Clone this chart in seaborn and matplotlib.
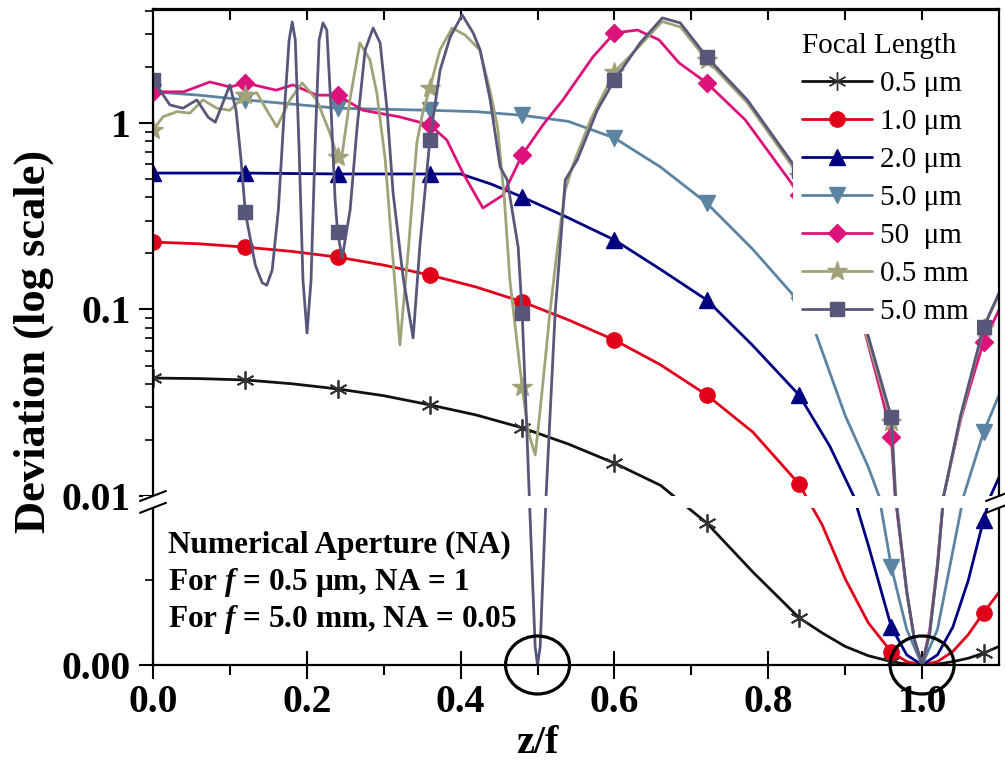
import numpy as np
import matplotlib
matplotlib.use("Agg")
import matplotlib.pyplot as plt
import seaborn as sns
from matplotlib.lines import Line2D
from matplotlib.patches import Ellipse, Rectangle
from matplotlib.transforms import ScaledTranslation

# ---------------- data ----------------
x_05um = [0, .06, .12, .18, .24, .30, .36, .42, .48, .54, .60, .66, .72, .78, .84, .87, .90, .93, .96, .98,
          1.0, 1.02, 1.04, 1.06, 1.08, 1.1]
y_05um = [.0429, .0426, .0419, .0400, .0375, .0345, .0308, .0272, .0232, .0190, .0150, .0114, .0084, .0055,
          .0028, .0019, .0011, .00055, .0002, .00005, 0, .00005, .0002, .0004, .0007, .0011]

x_1um = [0, .06, .12, .18, .24, .30, .36, .42, .48, .54, .60, .66, .72, .78, .84, .87, .90, .93, .96, .98,
         1.0, 1.02, 1.04, 1.06, 1.08, 1.1]
y_1um = [.230, .225, .216, .205, .191, .173, .153, .132, .110, .088, .0686, .0505, .0348, .0220, .0116, .0083,
         .0051, .0025, .00077, .0002, 0, .0002, .0008, .0018, .0031, .0043]

x_2um = [0, .12, .24, .36, .40, .44, .48, .54, .60, .66, .72, .78, .84, .88, .911, .93, .96, .98, 1.0, 1.02,
         1.04, 1.06, 1.08, 1.089, 1.1]
y_2um = [.539, .539, .533, .533, .533, .47, .401, .31, .236, .164, .1125, .064, .0348, .0185, .0100, .0071,
         .00225, .0006, 0, .0006, .00225, .0050, .0086, .0100, .0126]

x_5um = [0, .06, .12, .24, .36, .42, .48, .54, .60, .66, .72, .78, .83, .84, .86, .90, .93, .944, .96, .98,
         1.0, 1.02, 1.054, 1.08, 1.1]
y_5um = [1.47, 1.41, 1.33, 1.20, 1.17, 1.15, 1.10, 1.02, .831, .58, .372, .21, .1226, .106, .078, .027, .0143,
         .0100, .0058, .0021, 0, .0021, .0100, .022, .0348]

x_50um = [0, .04, .074, .10, .12, .16, .182, .213, .24, .273, .32, .36, .382, .403, .429, .455, .48, .507,
          .533, .572, .60, .63, .658, .684, .72, .77, .83, .84, .88, .924, .95, .96, .965, .98, .99, 1.0, 1.01,
          1.02, 1.028, 1.05, 1.065, 1.08, 1.1]
y_50um = [1.47, 1.47, 1.66, 1.56, 1.64, 1.50, 1.60, 1.41, 1.41, 1.17, 1.08, .976, .811, .539, .350, .41, .674,
          .976, 1.33, 2.26, 3.04, 3.15, 2.79, 2.10, 1.64, 1.04, .477, .41, .19, .0805, .0315, .0207, .0100,
          .0043, .0015, 0, .0021, .0060, .0100, .0256, .042, .067, .0994]

x_05mm = [0, .013, .031, .048, .065, .083, .10, .12, .135, .148, .161, .178, .194, .213, .23, .24, .245, .256,
          .269, .282, .291, .302, .311, .321, .332, .343, .351, .36, .373, .389, .406, .425, .438, .448, .457,
          .464, .48, .488, .497, .503, .51, .516, .526, .536, .546, .569, .60, .634, .662, .686, .72, .773,
          .831, .84, .88, .924, .96, .966, .98, .99, 1.0, 1.01, 1.02, 1.028, 1.05, 1.08, 1.1]
y_05mm = [.917, 1.08, 1.15, 1.13, 1.33, 1.20, 1.17, 1.41, 1.45, 1.17, .952, 1.33, 1.64, 1.33, .884, .657, .64,
          1.33, 2.69, 2.18, 1.45, .633, .209, .0645, .209, .782, 1.15, 1.54, 2.46, 3.23, 2.96, 2.46, 1.50,
          .952, .386, .144, .0384, .022, .0166, .0279, .0536, .0958, .216, .437, .595, 1.04, 1.88, 2.62, 3.50,
          3.27, 2.18, 1.28, .588, .52, .23, .082, .025, .0100, .0043, .0015, 0, .0019, .0058, .0100, .026,
          .080, .120]

x_5mm = [0, .022, .039, .057, .072, .081, .10, .108, .1145, .12, .133, .142, .148, .155, .163, .17, .177, .181,
         .185, .19, .195, .2003, .2055, .211, .216, .221, .226, .2316, .2368, .24, .246, .2563, .2654, .2758,
         .2862, .2953, .3044, .3122, .3252, .3382, .3473, .36, .3733, .3864, .402, .4163, .4254, .4384, .4514,
         .4605, .4748, .48, .4852, .4891, .4969, .5, .5034, .5112, .5164, .5229, .5295, .536, .5516, .5776,
         .60, .6335, .6622, .6856, .72, .7727, .8313, .84, .88, .924, .96, .965, .98, .99, 1.0, 1.01, 1.02,
         1.028, 1.05, 1.08, 1.1]
y_5mm = [1.70, 1.25, 1.20, 1.33, 1.07, 1.01, 1.60, 1.17, .633, .333, .173, .139, .135, .163, .342, 1.04, 2.79,
         3.48, 2.79, .717, .144, .0748, .144, .811, 2.79, 3.44, 3.15, 1.17, .386, .26, .189, .342, .952, 2.46,
         3.23, 2.69, 1.17, .421, .149, .0704, .227, .811, 1.92, 2.89, 3.80, 3.04, 2.46, 1.33, .581, .495, .216,
         .0958, .0279, .0104, .00107, 0, .00107, .0102, .0279, .0958, .216, .495, .633, 1.17, 1.70, 2.69,
         3.66, 3.44, 2.26, 1.33, .610, .55, .245, .088, .0265, .0103, .0044, .0015, 0, .0019, .0058, .0100,
         .027, .0805, .1226]

labels = ["0.5 \u03bcm", "1.0 \u03bcm", "2.0 \u03bcm", "5.0 \u03bcm", "50  \u03bcm", "0.5 mm", "5.0 mm"]
colors = ["#111111", "#e1001a", "#000080", "#5b84a3", "#dc137a", "#a2a279", "#57577a"]
markers = [(6, 2, 0), "o", "^", "v", "D", "*", "s"]
msizes = [13, 11, 12, 12, 9.5, 15, 9.5]
marker_x = [0, .12, .24, .36, .48, .60, .72, .84, .96, 1.08]

xs = [x_05um, x_1um, x_2um, x_5um, x_50um, x_05mm, x_5mm]
ys = [y_05um, y_1um, y_2um, y_5um, y_50um, y_05mm, y_5mm]

# ---------------- style ----------------
sns.set_theme(style="ticks", rc={"axes.edgecolor": "black", "xtick.color": "black", "ytick.color": "black",
                                 "text.color": "black", "axes.labelcolor": "black"})
plt.rcParams["font.family"] = ["Liberation Serif", "DejaVu Serif"]
plt.rcParams["mathtext.fontset"] = "custom"
plt.rcParams["mathtext.it"] = "Liberation Serif:italic:bold"
plt.rcParams["mathtext.rm"] = "Liberation Serif:bold"

W, H = 1005, 776
fig = plt.figure(figsize=(W / 100, H / 100), dpi=100)
ax = fig.add_axes([153 / W, 1 - 665 / H, (999 - 153) / W, (665 - 9.5) / H])

for xv, yv, c, m, ms in zip(xs, ys, colors, markers, msizes):
    xv = np.asarray(xv, float)
    idx = [i for i, v in enumerate(xv) if np.any(np.isclose(v, marker_x))]
    mec = "#333333" if c == "#111111" else c
    sns.lineplot(x=xv, y=np.asarray(yv, float), ax=ax, color=c, lw=2.0, marker=m, markersize=ms,
                 markevery=idx, mfc=c, mec=mec, mew=1.3 if c == "#111111" else 1, sort=False,
                 estimator=None, errorbar=None, legend=False)

# broken axis: log above 0.01, linear below
K = 169 / 186.5


def fwd(y):
    y = np.asarray(y, float)
    with np.errstate(divide="ignore", invalid="ignore"):
        return np.where(y >= 0.01, np.log10(np.where(y > 0, y, 1e-300)), -2 - (0.01 - y) / 0.01 * K)


def inv(t):
    t = np.asarray(t, float)
    with np.errstate(over="ignore"):
        return np.where(t >= -2, 10.0 ** np.clip(t, -300, 300), 0.01 - (-2 - t) / K * 0.01)


ax.set_yscale("function", functions=(fwd, inv))
ax.set_ylim(0, 4.06)
ax.set_xlim(0, 1.1)

ax.set_yticks([0, 0.01, 0.1, 1])
ax.set_yticklabels(["0.00", "0.01", "0.1", "1"])
ax.set_yticks([0.005] + [k * 0.01 for k in range(2, 10)] + [k * 0.1 for k in range(2, 10)] + [2, 3, 4],
              minor=True)
ax.set_xticks([0, .2, .4, .6, .8, 1.0])
ax.set_xticklabels(["0.0", "0.2", "0.4", "0.6", "0.8", "1.0"])
ax.set_xticks([.1, .3, .5, .7, .9], minor=True)

for lab in ax.get_xticklabels() + ax.get_yticklabels():
    lab.set_fontweight("bold")
    lab.set_fontsize(28.5)
ax.tick_params(axis="x", which="major", direction="inout", length=20, width=1.5, pad=4)
ax.tick_params(axis="x", which="minor", direction="out", length=7, width=1.5)
ax.tick_params(axis="y", which="major", direction="out", length=10, width=1.5, pad=6)
ax.tick_params(axis="y", which="minor", direction="out", length=6, width=1.2)
for s in ax.spines.values():
    s.set_linewidth(1.6)
    s.set_color("black")

sec = ax.secondary_xaxis("top")
sec.set_xticks([.1, .2, .3, .4, .5, .6, .7, .8, .9, 1.0])
sec.set_xticklabels([])
sec.tick_params(direction="in", length=8, width=1.5)
sec.spines["top"].set_linewidth(1.6)

ax.set_ylabel("Deviation (log scale)", fontsize=32, fontweight="bold")
ax.yaxis.set_label_coords(-0.117, 0.494)
ax.set_xlabel("z/f", fontsize=29, fontweight="bold")
ax.xaxis.set_label_coords(0.454, -0.091)

# white gap across the data at the break
ax.axhspan(0.0093, 0.0100, color="white", lw=0, zorder=2.6)
ytr = ax.get_yaxis_transform()
for xa in (0, 1):
    ax.add_artist(Rectangle((xa - 0.012, 0.0093), 0.024, 0.0007, transform=ytr, color="white", lw=0,
                            clip_on=False, zorder=6))
    for yv in (0.0100, 0.0093):
        tr = fig.dpi_scale_trans + ScaledTranslation(xa, yv, ytr)
        ax.add_artist(Line2D([-0.13, 0.13], [-0.05, 0.05], transform=tr, color="black", lw=1.5,
                             clip_on=False, zorder=7))

# circles marking the zeros
for cx in (0.5, 1.0):
    tr = fig.dpi_scale_trans + ScaledTranslation(cx, 0.0, ax.transData)
    ax.add_artist(Ellipse((0, 0), 0.64, 0.58, transform=tr, fill=False, ec="black", lw=2.3, clip_on=False,
                          zorder=8))

# annotation
lines = ["Numerical Aperture (NA)", "For $f$ = 0.5 \u03bcm, NA = 1", "For $f$ = 5.0 mm, NA = 0.05"]
for i, t in enumerate(lines):
    fig.text(168 / W, 1 - (545 + 37.5 * i) / H, t, fontsize=22.5, fontweight="bold", va="center", ha="left")

# legend
handles = [Line2D([], [], color=c, marker=m, markersize=ms, lw=2.0, mfc=c,
                  mec=("#333333" if c == "#111111" else c)) for c, m, ms in zip(colors, markers, msizes)]
leg = ax.legend(handles, labels, title="Focal Length", loc="upper left",
                bbox_to_anchor=(793 / W, 1 - 24 / H), bbox_transform=fig.transFigure,
                frameon=True, facecolor="white", edgecolor="none", framealpha=1, fancybox=False,
                fontsize=21, title_fontsize=21, handlelength=2.4, handletextpad=0.27, labelspacing=0.40,
                borderpad=0.3, borderaxespad=0, alignment="left")
leg.set_zorder(5)

fig.savefig("out.png", dpi=100)
